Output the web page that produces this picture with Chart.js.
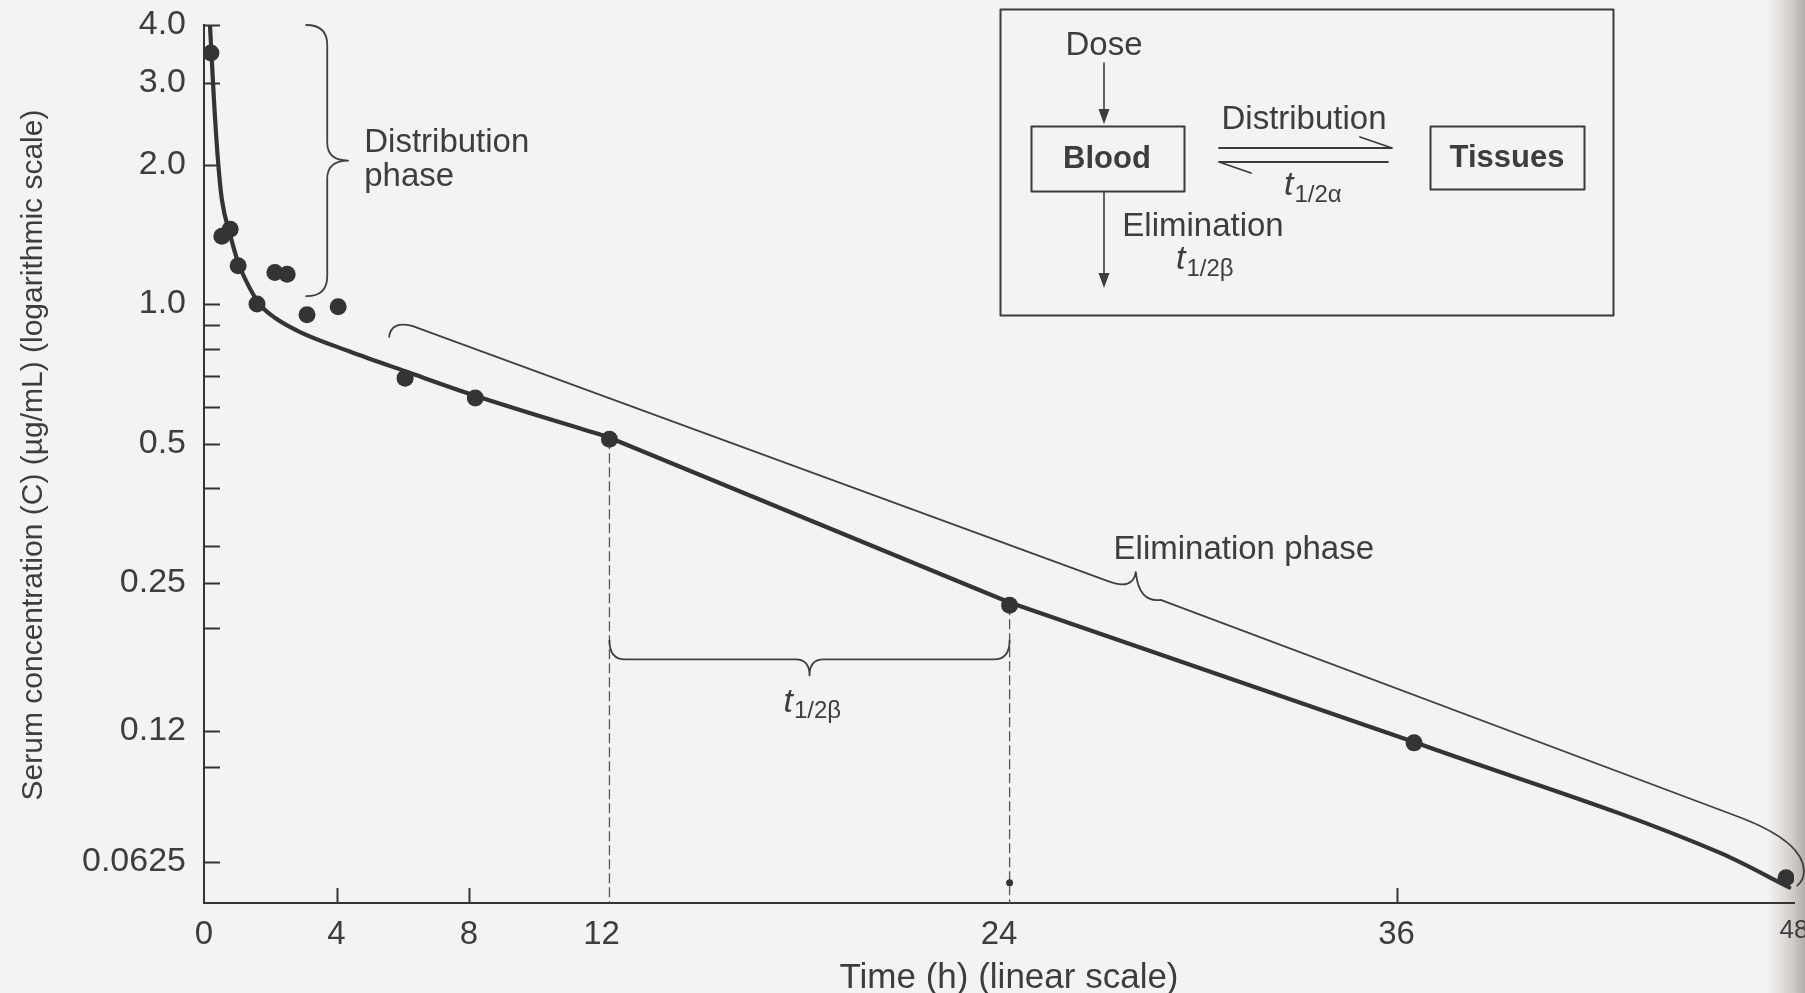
<!DOCTYPE html>
<html><head><meta charset="utf-8">
<script src="https://cdn.jsdelivr.net/npm/chart.js@4.4.1/dist/chart.umd.min.js"></script>
<style>
html,body{margin:0;padding:0;}
body{width:1805px;height:993px;overflow:hidden;
 background:linear-gradient(to right,#f4f2f2 0,#f4f2f2 1768px,#d2cdca 1792px,#b3aeab 1805px);}
canvas{display:block}
</style></head><body>
<canvas id="c" width="1805" height="993"></canvas>
<script>
// ---- data ----
const sampleTimes = [0.21, 0.54, 0.79, 1.03, 1.60, 2.14, 2.51, 3.11, 4.05, 6.07, 8.19, 12.24, 24.32, 36.53, 47.76];
const sampleConc  = [3.48, 1.40, 1.45, 1.21, 1.00, 1.17, 1.16, 0.948, 0.987, 0.692, 0.627, 0.511, 0.224, 0.113, 0.0578];
// fitted curve: distribution part (smooth), elimination part (straight on log scale), tail (smooth)
const curveEarlyTimes = [0.18, 0.30, 0.42, 0.54, 0.79, 1.03, 1.33, 1.69, 2.14, 2.9, 4.4, 6.1, 8.19, 12.21];
const curveEarlyConc  = [4.0, 2.76, 2.05, 1.68, 1.41, 1.23, 1.10, 0.997, 0.934, 0.87, 0.79, 0.715, 0.634, 0.516];
const curveLateTimes = [12.21, 24.32, 36.53];
const curveLateConc  = [0.516, 0.227, 0.1135];
const curveTailTimes = [36.53, 45.77, 47.86];
const curveTailConc  = [0.1135, 0.0654, 0.0551];
const halfLifeTimes = [12.24, 24.32];
const halfLifeConc  = [0.511, 0.224];
const markerTimes = [24.32];
const markerConc  = [0.0564];
const xTickValues = [0, 4, 8, 12, 24, 36, 48];
const xInnerTicks = [4, 8, 36];
const yTickValues = [0.0625, 0.12, 0.25, 0.5, 1, 2, 3, 4];
const yTickLabels = ['0.0625', '0.12', '0.25', '0.5', '1.0', '2.0', '3.0', '4.0'];
const yMinorTicks = [0.1, 0.2, 0.3, 0.4, 0.6, 0.7, 0.8, 0.9];

const INK = '#343434';
const TXT = '#3d3d3d';
const FONT = '"Liberation Sans", Arial, Helvetica, sans-serif';
const Y_MIN = 0.051, Y_MAX = 4;

function pts(ts, vs){ return ts.map((t,i)=>({x:t, y:vs[i]})); }

const lineStyle = { borderColor:INK, borderWidth:4.2, pointRadius:0, fill:false, order:3, borderJoinStyle:'round', borderCapStyle:'round' };
const datasets = [
  Object.assign({ label:'fit-distribution', data:pts(curveEarlyTimes, curveEarlyConc), cubicInterpolationMode:'monotone' }, lineStyle),
  Object.assign({ label:'fit-elimination', data:pts(curveLateTimes, curveLateConc), tension:0 }, lineStyle),
  Object.assign({ label:'fit-tail', data:pts(curveTailTimes, curveTailConc), cubicInterpolationMode:'monotone' }, lineStyle),
  { label:'observed', data:pts(sampleTimes, sampleConc), showLine:false,
    pointRadius:8.5, pointBackgroundColor:INK, pointBorderWidth:0, order:1 },
  { label:'marker', data:pts(markerTimes, markerConc), showLine:false,
    pointRadius:3.5, pointBackgroundColor:INK, pointBorderWidth:0, order:1 }
];
halfLifeTimes.forEach((t,i)=>{
  datasets.push({ label:'half'+i, data:[{x:t,y:halfLifeConc[i]},{x:t,y:Y_MIN}],
    borderColor:'#555', borderWidth:1.3, borderDash:[10,4], pointRadius:0, order:4 });
});

function P(chart,t,v){ return [chart.scales.x.getPixelForValue(t), chart.scales.y.getPixelForValue(v)]; }

const innerTicks = {
  id:'innerTicks',
  beforeDatasetsDraw(chart){
    const {ctx, scales:{x,y}, chartArea:a} = chart;
    ctx.save(); ctx.strokeStyle = INK; ctx.lineWidth = 2;
    yTickValues.concat(yMinorTicks).forEach(v=>{
      const py = Math.round(y.getPixelForValue(v))+0.5;
      ctx.beginPath(); ctx.moveTo(a.left, py); ctx.lineTo(a.left+16, py); ctx.stroke();
    });
    xInnerTicks.forEach(v=>{
      const px = Math.round(x.getPixelForValue(v))+0.5;
      ctx.beginPath(); ctx.moveTo(px, a.bottom); ctx.lineTo(px, a.bottom-15); ctx.stroke();
    });
    ctx.restore();
  }
};

function txt(ctx, s, x, y, size, opts={}){
  ctx.font = (opts.style||'') + ' ' + (opts.weight||'normal') + ' ' + size + 'px ' + FONT;
  ctx.fillStyle = opts.color || TXT;
  ctx.textAlign = opts.align || 'center';
  ctx.textBaseline = opts.baseline || 'middle';
  ctx.fillText(s, x, y);
}
function tsub(ctx, x, y, sub){
  txt(ctx, 't', x, y, 34, {style:'italic', align:'left'});
  const w = ctx.measureText('t').width;
  txt(ctx, sub, x + w + 1, y + 9, 24, {align:'left'});
}
function arrowDown(ctx, x, y1, y2){
  ctx.beginPath(); ctx.moveTo(x, y1); ctx.lineTo(x, y2-12); ctx.stroke();
  ctx.beginPath(); ctx.moveTo(x-5.5, y2-15); ctx.lineTo(x+5.5, y2-15); ctx.lineTo(x, y2); ctx.closePath(); ctx.fill();
}

const annotations = {
  id:'annotations',
  afterDraw(chart){
    const ctx = chart.ctx;
    ctx.save();
    ctx.strokeStyle = '#404040'; ctx.fillStyle = '#404040'; ctx.lineWidth = 1.8;
    ctx.lineCap = 'round'; ctx.lineJoin = 'round';

    // Distribution-phase brace
    {
      const [sx, yt] = P(chart, 3.72, 4.0);
      const [, yb] = P(chart, 3.72, 1.04);
      const ym = (yt+yb)/2;
      ctx.beginPath();
      ctx.moveTo(sx-21, yt); ctx.quadraticCurveTo(sx, yt, sx, yt+20);
      ctx.lineTo(sx, ym-18); ctx.quadraticCurveTo(sx, ym, sx+21, ym);
      ctx.quadraticCurveTo(sx, ym, sx, ym+18);
      ctx.lineTo(sx, yb-20); ctx.quadraticCurveTo(sx, yb, sx-21, yb);
      ctx.stroke();
      txt(ctx, 'Distribution', sx+37, ym-18, 33, {align:'left'});
      txt(ctx, 'phase', sx+37, ym+16, 33, {align:'left'});
    }
    // t1/2 beta brace
    {
      const [x1, yT] = P(chart, halfLifeTimes[0], 0.188);
      const [x2] = P(chart, halfLifeTimes[1], 0.188);
      const xm = (x1+x2)/2, d = 19;
      ctx.beginPath();
      ctx.moveTo(x1, yT); ctx.quadraticCurveTo(x1, yT+d, x1+16, yT+d);
      ctx.lineTo(xm-14, yT+d); ctx.quadraticCurveTo(xm, yT+d, xm, yT+d+16);
      ctx.quadraticCurveTo(xm, yT+d, xm+14, yT+d);
      ctx.lineTo(x2-16, yT+d); ctx.quadraticCurveTo(x2, yT+d, x2, yT);
      ctx.stroke();
      tsub(ctx, xm-26, yT+62, '1/2\u03B2');
    }
    // Elimination-phase brace
    {
      const A = P(chart, 5.59, 0.850), B = P(chart, 5.98, 0.906);
      const C = P(chart, 27.31, 0.252), D = P(chart, 28.13, 0.264), E = P(chart, 28.88, 0.230);
      const F = P(chart, 46.4, 0.0779), G = P(chart, 48.28, 0.0691), H = P(chart, 48.3, 0.0598), I = P(chart, 48.1, 0.0556);
      ctx.beginPath();
      ctx.moveTo(A[0], A[1]); ctx.quadraticCurveTo(A[0]+2, B[1]-3, B[0]+10, B[1]+2);
      ctx.lineTo(C[0], C[1]); ctx.quadraticCurveTo(D[0]-3, C[1]+9, D[0], D[1]);
      ctx.quadraticCurveTo(D[0]+3, E[1]+3, E[0], E[1]);
      ctx.lineTo(F[0], F[1]); ctx.quadraticCurveTo(G[0], G[1], H[0], H[1]);
      ctx.quadraticCurveTo(H[0], H[1]+9, I[0], I[1]);
      ctx.stroke();
      txt(ctx, 'Elimination phase', D[0]+108, D[1]-22, 33);
    }

    // Axis titles
    {
      ctx.save(); ctx.translate(34, 455); ctx.rotate(-Math.PI/2);
      txt(ctx, 'Serum concentration (C) (\u00B5g/mL) (logarithmic scale)', 0, 0, 30);
      ctx.restore();
      txt(ctx, 'Time (h) (linear scale)', 1009, 978, 35);
    }

    // Inset diagram
    {
      ctx.strokeStyle = '#3a3a3a'; ctx.fillStyle = '#3a3a3a'; ctx.lineWidth = 2;
      ctx.strokeRect(1000.5, 9.5, 613, 306);
      ctx.strokeRect(1031.5, 126.5, 153, 65);
      ctx.strokeRect(1430.5, 126.5, 154, 63);
      txt(ctx, 'Dose', 1104, 46, 33);
      ctx.lineWidth = 1.6;
      arrowDown(ctx, 1104, 63, 124);
      txt(ctx, 'Blood', 1107, 159, 31, {weight:'bold'});
      txt(ctx, 'Tissues', 1507, 158, 31, {weight:'bold'});
      txt(ctx, 'Distribution', 1304, 120, 33);
      ctx.lineWidth = 1.8;
      ctx.beginPath(); ctx.moveTo(1219, 148); ctx.lineTo(1392, 148); ctx.lineTo(1360, 137); ctx.stroke();
      ctx.beginPath(); ctx.moveTo(1388, 162); ctx.lineTo(1219, 162); ctx.lineTo(1251, 173); ctx.stroke();
      tsub(ctx, 1284, 186, '1/2\u03B1');
      txt(ctx, 'Elimination', 1203, 227, 33);
      ctx.lineWidth = 1.6;
      arrowDown(ctx, 1104, 192, 288);
      tsub(ctx, 1176, 260, '1/2\u03B2');
    }
    ctx.restore();
  }
};

new Chart(document.getElementById('c'), {
  type:'line',
  data:{ datasets },
  options:{
    responsive:false, animation:false, devicePixelRatio:1,
    layout:{ padding:0 },
    plugins:{ legend:{display:false}, tooltip:{enabled:false} },
    scales:{
      x:{ type:'linear', min:0, max:48,
        afterBuildTicks:(s)=>{ s.ticks = xTickValues.map(v=>({value:v})); },
        afterFit:(s)=>{ s.height = 90; s.paddingRight = 11; s.paddingLeft = 0; },
        ticks:{ autoSkip:false, maxRotation:0, padding:12, color:TXT,
          font:(c)=>({ family:FONT, size:(c.tick && c.tick.value===48) ? 26 : 33 }) },
        grid:{ display:true, drawOnChartArea:false, drawTicks:false },
        border:{ display:true, color:INK, width:2 } },
      y:{ type:'logarithmic', min:Y_MIN, max:Y_MAX,
        afterBuildTicks:(s)=>{ s.ticks = yTickValues.concat(yMinorTicks).map(v=>({value:v})); },
        afterFit:(s)=>{ s.width = 204; s.paddingTop = 25; s.paddingBottom = 0; },
        ticks:{ autoSkip:false, padding:18, color:TXT, font:{family:FONT, size:34},
          callback:(v)=>{ const i = yTickValues.indexOf(v); return i>=0 ? yTickLabels[i] : ''; } },
        grid:{ display:true, drawOnChartArea:false, drawTicks:false },
        border:{ display:true, color:INK, width:2 } }
    }
  },
  plugins:[innerTicks, annotations]
});
</script>
</body></html>
